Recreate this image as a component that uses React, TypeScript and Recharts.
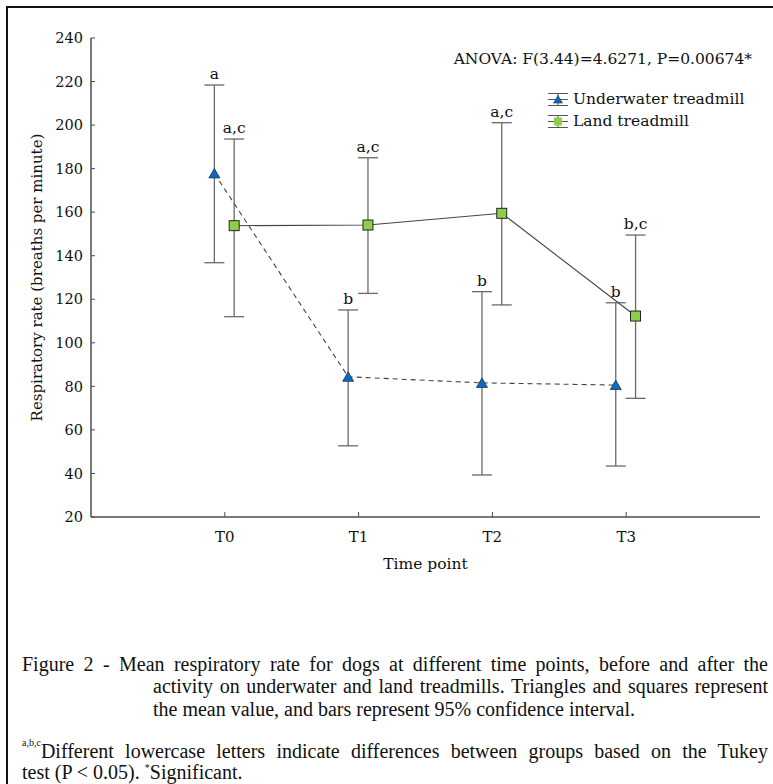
import React from 'react';
import { ComposedChart, Scatter, XAxis, YAxis, ErrorBar, Legend } from 'recharts';

// ---- data ----
const timePoints = ['T0', 'T1', 'T2', 'T3'];
const underwaterMean = [177.8, 84.4, 81.6, 80.6];
const underwaterLow = [136.8, 52.7, 39.3, 43.4];
const underwaterHigh = [218.4, 115.1, 123.5, 118.4];
const underwaterLetters = ['a', 'b', 'b', 'b'];
const landMean = [153.8, 154.1, 159.5, 112.3];
const landLow = [112.0, 122.7, 117.4, 74.5];
const landHigh = [193.6, 185.0, 201.1, 149.5];
const landLetters = ['a,c', 'a,c', 'a,c', 'b,c'];
const yTicks = [20, 40, 60, 80, 100, 120, 140, 160, 180, 200, 220, 240];
const xTicks = [1, 2, 3, 4];
const anovaText = 'ANOVA: F(3.44)=4.6271, P=0.00674*';
const seriesNames = ['Underwater treadmill', 'Land treadmill'];

// dodge of each series around its time point (in axis units)
const UW_SHIFT = -0.078;
const LAND_SHIFT = 0.07;

const build = (mean: number[], lo: number[], hi: number[], letters: string[], shift: number) =>
  mean.map((m, i) => ({
    x: i + 1 + shift,
    y: m,
    hi: hi[i],
    letter: letters[i],
    err: [m - lo[i], hi[i] - m],
  }));

const uwData = build(underwaterMean, underwaterLow, underwaterHigh, underwaterLetters, UW_SHIFT);
const landData = build(landMean, landLow, landHigh, landLetters, LAND_SHIFT);
const uwLetterData = uwData.map((d) => ({ x: d.x, y: d.hi, letter: d.letter }));
const landLetterData = landData.map((d) => ({ x: d.x, y: d.hi, letter: d.letter }));

const BLUE = '#0a6cc0';
const GREEN = '#8fce4a';
const AXIS = '#4d4d4d';
const SERIF = '"DejaVu Serif", serif';
const TIMES = '"Liberation Serif", "Times New Roman", serif';

const Triangle = (p: any) => {
  const { cx, cy } = p;
  if (cx == null || cy == null) return <g />;
  return (
    <polygon
      points={`${cx - 5.5},${cy + 4.5} ${cx + 5.5},${cy + 4.5} ${cx},${cy - 5}`}
      fill={BLUE}
      stroke="#1c3350"
      strokeWidth={0.8}
    />
  );
};

const Square = (p: any) => {
  const { cx, cy } = p;
  if (cx == null || cy == null) return <g />;
  return <rect x={cx - 5} y={cy - 5} width={10} height={10} fill={GREEN} stroke="#111" strokeWidth={0.9} />;
};

const LetterShape = (p: any) => {
  const { cx, cy, payload } = p;
  if (cx == null || cy == null) return <g />;
  return (
    <text x={cx} y={cy - 6} textAnchor="middle" fontFamily={SERIF} fontSize={15.5} fill="#111">
      {payload.letter}
    </text>
  );
};

const LegendGlyph = ({ kind }: { kind: 'tri' | 'sq' }) => (
  <svg width={22} height={15} style={{ display: 'block' }}>
    <line x1={1} y1={1.5} x2={21} y2={1.5} stroke="#555" strokeWidth={1} />
    <line x1={1} y1={7.5} x2={21} y2={7.5} stroke="#555" strokeWidth={1} />
    <line x1={1} y1={13.5} x2={21} y2={13.5} stroke="#555" strokeWidth={1} />
    <line x1={11} y1={1.5} x2={11} y2={13.5} stroke="#555" strokeWidth={1} />
    {kind === 'tri' ? (
      <polygon points="6.5,11 15.5,11 11,3.5" fill={BLUE} stroke="#1c3350" strokeWidth={0.6} />
    ) : (
      <rect x={7} y={3.5} width={8} height={8} fill={GREEN} />
    )}
  </svg>
);

const LegendContent = () => (
  <div style={{ fontFamily: SERIF, fontSize: 15.5, color: '#111', lineHeight: '22px' }}>
    {seriesNames.map((n, i) => (
      <div key={n} style={{ display: 'flex', alignItems: 'center', whiteSpace: 'nowrap' }}>
        <LegendGlyph kind={i === 0 ? 'tri' : 'sq'} />
        <span style={{ marginLeft: 4 }}>{n}</span>
      </div>
    ))}
  </div>
);

const capBase: React.CSSProperties = {
  position: 'absolute',
  fontFamily: TIMES,
  fontSize: 20,
  lineHeight: '23px',
  color: '#111',
  margin: 0,
};
const justify: React.CSSProperties = { textAlign: 'justify', textAlignLast: 'justify' as any };

export default function App() {
  return (
    <div
      style={{
        position: 'absolute',
        left: 0,
        top: 0,
        width: 773,
        height: 784,
        overflow: 'hidden',
        background: '#fff',
      }}
    >
      <div
        style={{
          position: 'absolute',
          left: 6,
          top: 6,
          width: 800,
          height: 800,
          border: '2px solid #111',
        }}
      />
      <div style={{ position: 'absolute', left: 0, top: 0 }}>
        <ComposedChart width={773} height={600} margin={{ top: 38, right: 13, bottom: 21, left: 0 }}>
          <XAxis
            xAxisId="b"
            type="number"
            dataKey="x"
            domain={[0, 5]}
            ticks={xTicks}
            tickFormatter={(v: number) => timePoints[v - 1] ?? ''}
            height={62}
            tickSize={-5}
            tickMargin={19}
            axisLine={{ stroke: AXIS, strokeWidth: 1.5 }}
            tickLine={{ stroke: AXIS }}
            tick={{ fontFamily: SERIF, fontSize: 15, fill: '#111' }}
            label={{ value: 'Time point', position: 'insideBottom', offset: 10, fontFamily: SERIF, fontSize: 15.5, fill: '#111' }}
            allowDataOverflow
          />
          <XAxis
            xAxisId="t"
            orientation="top"
            type="number"
            dataKey="x"
            domain={[0, 5]}
            ticks={xTicks}
            height={0}
            tickSize={-5}
            tick={false}
            axisLine={{ stroke: AXIS, strokeWidth: 1.5 }}
            tickLine={{ stroke: AXIS }}
            allowDataOverflow
          />
          <YAxis
            yAxisId="l"
            type="number"
            domain={[20, 240]}
            ticks={yTicks}
            width={91}
            tickSize={-4}
            tickMargin={12}
            axisLine={{ stroke: AXIS, strokeWidth: 1.5 }}
            tickLine={{ stroke: AXIS }}
            tick={{ fontFamily: SERIF, fontSize: 14.5, fill: '#111' }}
            label={{
              value: 'Respiratory rate (breaths per minute)',
              angle: -90,
              position: 'center',
              dx: -9,
              fontFamily: SERIF,
              fontSize: 15,
              fill: '#111',
            }}
            allowDataOverflow
          />
          <YAxis
            yAxisId="r"
            orientation="right"
            type="number"
            domain={[20, 240]}
            ticks={yTicks}
            width={0}
            tickSize={-4}
            tick={false}
            axisLine={{ stroke: AXIS, strokeWidth: 1.5 }}
            tickLine={{ stroke: AXIS }}
            allowDataOverflow
          />
          <Legend
            content={LegendContent}
            layout="vertical"
            align="center"
            verticalAlign="middle"
            wrapperStyle={{ left: 547, top: 88, width: 224, height: 46 }}
          />
          <Scatter
            name="Underwater treadmill"
            data={uwData}
            xAxisId="b"
            yAxisId="l"
            dataKey="y"
            line={{ stroke: '#444', strokeWidth: 1.1, strokeDasharray: '5 4' }}
            lineType="joint"
            shape={Triangle}
            isAnimationActive={false}
          >
            <ErrorBar dataKey="err" direction="y" width={10} stroke="#6a6a6a" strokeWidth={1.3} isAnimationActive={false} />
          </Scatter>
          <Scatter
            name="Land treadmill"
            data={landData}
            xAxisId="b"
            yAxisId="l"
            dataKey="y"
            line={{ stroke: '#444', strokeWidth: 1.1 }}
            lineType="joint"
            shape={Square}
            isAnimationActive={false}
          >
            <ErrorBar dataKey="err" direction="y" width={10} stroke="#6a6a6a" strokeWidth={1.3} isAnimationActive={false} />
          </Scatter>
          <Scatter data={uwLetterData} xAxisId="b" yAxisId="l" dataKey="y" shape={LetterShape} legendType="none" isAnimationActive={false} />
          <Scatter data={landLetterData} xAxisId="b" yAxisId="l" dataKey="y" shape={LetterShape} legendType="none" isAnimationActive={false} />
        </ComposedChart>
      </div>
      <svg width={773} height={100} style={{ position: 'absolute', left: 0, top: 0, pointerEvents: 'none' }}>
        <text x={752} y={64} textAnchor="end" fontFamily={SERIF} fontSize={15.5} fill="#111">
          {anovaText}
        </text>
      </svg>
      <div style={{ ...capBase, ...justify, left: 22, top: 653, width: 746 }}>
        Figure 2 - Mean respiratory rate for dogs at different time points, before and after the
      </div>
      <div style={{ ...capBase, ...justify, left: 153, top: 675, width: 615 }}>
        activity on underwater and land treadmills. Triangles and squares represent
      </div>
      <div style={{ ...capBase, left: 153, top: 698, whiteSpace: 'nowrap' }}>
        the mean value, and bars represent 95% confidence interval.
      </div>
      <div style={{ ...capBase, ...justify, left: 22, top: 740, width: 746 }}>
        <span style={{ fontSize: 10, position: 'relative', top: -12 }}>a,b,c</span>
        Different lowercase letters indicate differences between groups based on the Tukey
      </div>
      <div style={{ ...capBase, left: 22, top: 762, lineHeight: '21px', whiteSpace: 'nowrap' }}>
        test (P &lt; 0.05). <span style={{ fontSize: 10, position: 'relative', top: -8 }}>*</span>Significant.
      </div>
    </div>
  );
}
